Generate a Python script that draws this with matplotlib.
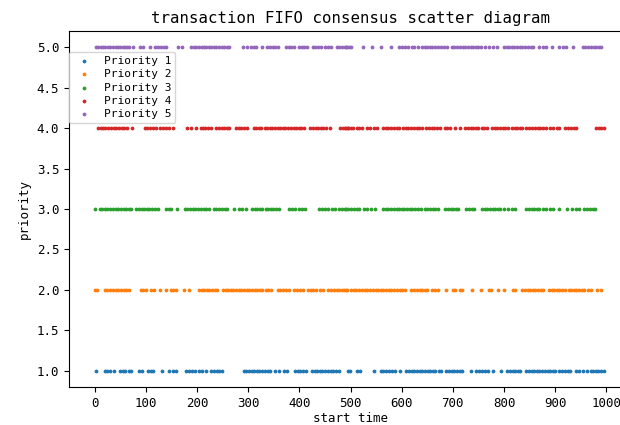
# -*- coding: utf-8 -*-
"""
Scatter diagram of transaction start times by priority (FIFO consensus).
"""

import matplotlib
matplotlib.use('Agg')
import matplotlib.pyplot as plt

plt.rcParams['font.family'] = ['DejaVu Sans Mono']

# start times, one list per priority
priority_1 = [3, 20, 25, 31, 37, 50, 55, 60, 67, 72, 87, 92, 105, 110, 115, 131, 146, 153, 159,
              178, 184, 191, 197, 204, 210, 217, 228, 233, 239, 244, 249,
              291, 296, 302, 307, 312, 317, 322, 328, 333, 338, 343, 353, 360, 371, 376,
              392, 397, 402, 408, 413, 425, 430, 435, 440, 445, 451, 456, 461, 466, 471, 478, 496,
              499, 512, 518, 546, 559, 564, 570, 576, 581, 587, 596,
              609, 614, 620, 625, 630, 635, 640, 646, 651, 656, 661, 666, 672, 677,
              687, 692, 698, 703, 708, 713, 718, 736, 746, 752, 757, 762, 769, 778, 795,
              806, 811, 817, 822, 827, 832, 843, 848, 854, 859, 864, 869, 874, 880, 885, 890, 895, 900,
              908, 913, 919, 924, 929, 941, 947, 954, 963, 969, 974, 979, 984, 990, 995]
priority_2 = [0, 5, 20, 25, 31, 36, 41, 46, 51, 57, 62, 67, 90, 95, 100, 111, 116, 127, 139, 149, 153, 159,
              174, 185, 204, 209, 214, 219, 224, 230, 235, 240, 250, 256, 261, 266, 271, 276, 282,
              287, 292, 297, 302, 308, 313, 318, 323, 328, 334, 339, 344, 358, 363, 369, 374, 379,
              389, 395, 402, 408, 417, 422, 427, 432, 441, 447, 457, 462, 467, 473, 478, 483, 488, 493,
              491, 501, 506, 511, 516, 523, 528, 533, 538, 544, 549, 554, 559, 564, 570, 575, 580,
              585, 590, 596, 601, 606, 619, 624, 629, 635, 640, 645, 650, 659, 665, 670, 687,
              700, 705, 713, 718, 737, 754, 770, 775, 788, 800, 817, 822, 835, 841, 846, 851, 856,
              861, 867, 872, 877, 887, 893, 898, 903, 908, 913, 919, 926, 931, 936, 941, 947, 952,
              957, 965, 970, 981, 990]
priority_3 = [0, 10, 15, 20, 25, 31, 36, 41, 46, 51, 57, 62, 67, 72, 81, 86, 92, 97, 102, 107, 113, 118, 123,
              139, 145, 150, 161, 176, 181, 187, 192, 197, 202, 207, 213, 218, 223, 233, 238, 243,
              248, 254, 259, 272, 282, 288, 296, 308, 313, 318, 323, 328, 334, 339, 344, 349, 354,
              360, 379, 386, 392, 399, 406, 411, 438, 444, 451, 457, 464, 470, 477, 483, 490, 496,
              491, 501, 507, 512, 517, 527, 533, 540, 548, 564, 569, 574, 579, 585, 590, 595,
              600, 605, 611, 616, 621, 626, 631, 637, 645, 650, 655, 661, 666, 671, 685, 691,
              696, 701, 706, 711, 726, 731, 737, 742, 757, 762, 767, 772, 778, 783, 788, 793,
              800, 808, 815, 822, 843, 848, 854, 859, 864, 869, 876, 882, 889, 895, 908, 923,
              933, 941, 947, 957, 962, 967, 973, 978]
priority_4 = [7, 12, 16, 21, 27, 32, 37, 42, 48, 53, 58, 63, 74, 98, 103, 109, 114, 120, 127, 133, 140, 146,
              153, 181, 189, 198, 207, 211, 216, 222, 227, 237, 243, 248, 253, 258, 263, 276, 282,
              287, 292, 298, 311, 316, 321, 326, 332, 337, 342, 347, 352, 358, 363, 368, 373, 378,
              384, 389, 394, 399, 404, 410, 421, 426, 432, 437, 442, 447, 452, 460, 480, 485, 490, 495,
              491, 496, 500, 505, 512, 516, 522, 533, 538, 546, 551, 564, 569, 574, 579, 585, 590,
              595, 603, 608, 613, 618, 624, 629, 634, 639, 648, 653, 659, 664, 669, 674, 684, 689,
              694, 705, 713, 724, 730, 735, 740, 745, 750, 756, 761, 766, 776, 782, 787, 792, 797,
              802, 808, 815, 821, 826, 831, 836, 843, 848, 854, 860, 866, 871, 876, 882, 890, 895,
              904, 908, 920, 925, 930, 936, 941, 980, 985, 990, 995]
priority_5 = [2, 6, 12, 17, 21, 27, 31, 36, 41, 46, 50, 55, 59, 64, 68, 75, 88, 94, 109, 119, 124, 129, 135,
              140, 163, 171, 189, 194, 199, 204, 209, 214, 218, 223, 228, 233, 238, 243, 248, 253,
              258, 263, 289, 298, 306, 311, 316, 328, 337, 342, 348, 353, 358, 374, 379, 384, 389,
              400, 405, 410, 415, 426, 431, 436, 443, 450, 457, 462, 473, 478, 484, 489, 494,
              492, 497, 501, 525, 542, 559, 580, 594, 600, 607, 613, 620, 624, 631, 640, 645, 650,
              655, 660, 666, 671, 677, 683, 688, 698, 703, 709, 714, 719, 724, 729, 735, 740, 745,
              750, 755, 762, 770, 778, 787, 800, 805, 810, 815, 820, 826, 831, 836, 841, 846, 852,
              857, 869, 876, 882, 893, 908, 915, 921, 934, 954, 959, 964, 969, 975, 980, 985, 990]

series = [priority_1, priority_2, priority_3, priority_4, priority_5]
labels = ['Priority 1', 'Priority 2', 'Priority 3', 'Priority 4', 'Priority 5']

fig = plt.figure(figsize=(6.2, 4.25), dpi=100)
# the source figure was cut at the right, so the axes run a little past the edge
ax = fig.add_axes([69 / 620, 1 - 387 / 425, 563 / 620, 356 / 425])

for i, (xs, lab) in enumerate(zip(series, labels)):
    ax.scatter(xs, [i + 1] * len(xs), s=3, label=lab)

ax.set_xlim(-50, 1050)
ax.set_ylim(0.8, 5.2)
ax.set_xticks(range(0, 1001, 100))
ax.tick_params(labelsize=9)
plt.title('transaction FIFO consensus scatter diagram', fontsize=11.3)
plt.xlabel('start time', fontsize=9, labelpad=2)
plt.ylabel('priority', fontsize=9)
plt.legend(loc='upper left', bbox_to_anchor=(0, 0.941), borderaxespad=0, fontsize=8,
           labelspacing=0.3, borderpad=0.35)

plt.savefig('out.png', dpi=100)
